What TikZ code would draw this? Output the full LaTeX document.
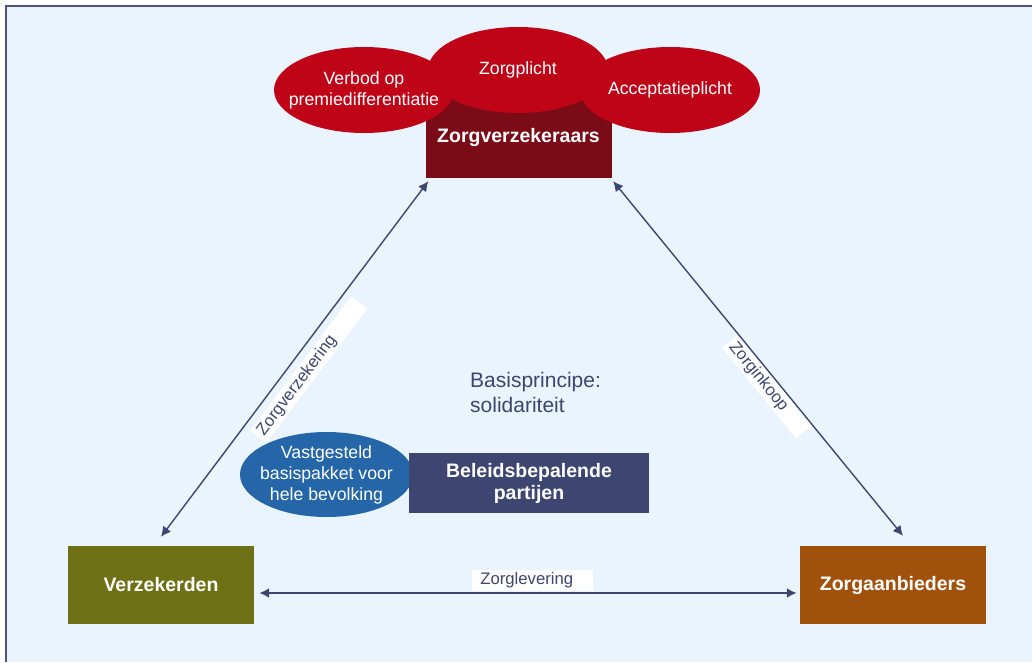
\documentclass[tikz,border=0pt]{standalone}
\usepackage{fontspec}
\setmainfont{Liberation Sans}
\usetikzlibrary{arrows.meta,shapes.geometric}
\definecolor{bgblue}{HTML}{EAF4FF}
\definecolor{frameblue}{HTML}{4A5584}
\definecolor{navy}{HTML}{3C4670}
\definecolor{insurerred}{HTML}{7A0B17}
\definecolor{rulered}{HTML}{C00418}
\definecolor{insuredolive}{HTML}{6E7015}
\definecolor{providerbrown}{HTML}{A0520C}
\definecolor{packageblue}{HTML}{2566A8}
\begin{document}
\begin{tikzpicture}[x=1pt, y=-1pt,
		party/.style={rectangle, minimum width=186pt, minimum height=78pt, text=white, font=\fontsize{19.5}{22}\selectfont\bfseries},
		rule/.style={ellipse, fill=rulered, minimum width=180pt, minimum height=86pt, inner sep=-12pt, text=white, align=center, font=\fontsize{17.7}{21}\selectfont},
		link/.style={{Latex[length=10pt,width=10pt]}-{Latex[length=10pt,width=10pt]}, navy, line width=1.4pt},
		linklabel/.style={fill=white, text=navy, sloped, align=left, inner ysep=2pt, minimum height=20pt, font=\fontsize{16.7}{18}\selectfont}]
		\useasboundingbox (0,0) rectangle (1032,662);
		\fill[bgblue] (6,6) rectangle (1032,662);
		\draw[frameblue, line width=2pt] (1032,6) -- (6,6) -- (6,662);
		\node[party, fill=insurerred, minimum height=81pt] (insurers) at (518.5,137.5) {\raisebox{-2pt}{Zorgverzekeraars}};
		\node[party, fill=insuredolive] (insured) at (161,585) {Verzekerden};
		\node[party, fill=providerbrown] (providers) at (893,585) {Zorgaanbieders};
		\node[rule] (premium) at (364,90) {Verbod op\\premiedifferentiatie};
		\node[rule] (acceptance) at (670,90) {Acceptatieplicht};
		\node[rule] (duty) at (518,70) {Zorgplicht};
		\node[rule, fill=packageblue, minimum width=173pt, minimum height=85pt] (package) at (326.5,474.5) {Vastgesteld\\basispakket voor\\hele bevolking};
		\node[party, fill=navy, minimum width=240pt, minimum height=60pt, align=center] (policy) at (529,483) {Beleidsbepalende\\partijen};
		\node[anchor=west, align=left, text=navy, inner sep=0pt, font=\fontsize{21}{25}\selectfont] (principle) at (470,392) {Basisprincipe:\\solidariteit};
		\draw[link] ([shift={(0,-9)}]insured.north) -- ([shift={(3,3)}]insurers.south west) node[linklabel, below=7pt, pos=0.5, text width=160pt, inner xsep=4pt] (insurance) {Zorgverzekering};
		\draw[link] ([shift={(1.5,3)}]insurers.south east) -- ([shift={(10,-10)}]providers.north) node[linklabel, below=0.5pt, pos=0.56, text width=110pt, inner xsep=3.5pt] (purchase) {Zorginkoop};
		\draw[link, line width=2.6pt] ([shift={(5,8)}]insured.east) -- ([shift={(-3,8)}]providers.west) node[linklabel, above=1pt, pos=0.509, text width=105pt, inner xsep=8pt, minimum height=21pt] (delivery) {Zorglevering};
	\end{tikzpicture}
\end{document}
